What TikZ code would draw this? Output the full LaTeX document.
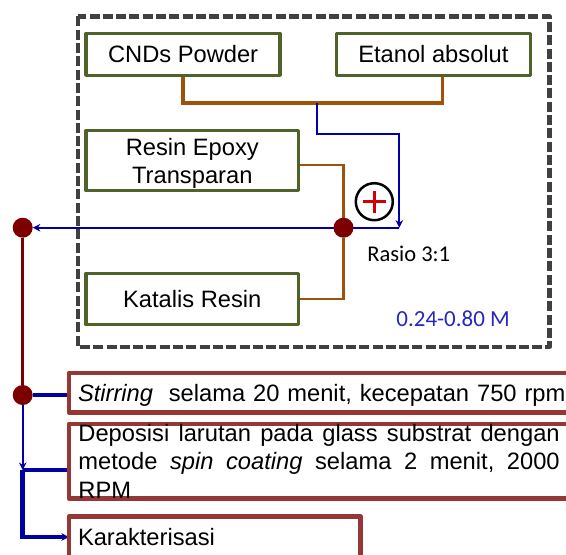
\documentclass[tikz,border=0pt]{standalone}
\usepackage{fontspec}
\setmainfont{Liberation Sans}
\newfontfamily\calfont{Carlito}
\usetikzlibrary{arrows.meta,backgrounds}
\definecolor{boxgreen}{RGB}{79,98,40}
\definecolor{boxred}{RGB}{149,55,53}
\definecolor{pipebrown}{RGB}{160,82,10}
\definecolor{pipeblue}{RGB}{0,0,165}
\definecolor{dotred}{RGB}{125,0,0}
\definecolor{dashgray}{RGB}{64,64,64}
\definecolor{molblue}{RGB}{40,40,190}
\definecolor{plusred}{RGB}{210,0,0}
\begin{document}
\begin{tikzpicture}[x=0.5pt,y=-0.5pt,font=\fontsize{11.85}{14.1}\selectfont,line join=round,
  >={Stealth[length=3.8pt,width=3.8pt]},
  gbox/.style={draw=boxgreen,line width=1.75pt,inner sep=0pt,outer sep=0pt,align=center},
  rbox/.style={draw=boxred,line width=2.25pt,inner ysep=0pt,inner xsep=4.5pt,outer sep=0pt,anchor=west,align=left},
  joint/.style={circle,fill=dotred,minimum size=10pt,inner sep=0pt,outer sep=0pt},
  thinpipe/.style={pipeblue,line width=1.1pt},
  thickpipe/.style={pipeblue,line width=2.4pt}]
\useasboundingbox (0,0) rectangle (566,554);
% bahan
\draw[dashgray,line width=2.15pt,dash pattern=on 5pt off 1.65pt] (78,16.4) rectangle (549.5,347);
\node[gbox,minimum width=97.1pt,minimum height=20.85pt] (cnd) at (183.1,54.4) {CNDs Powder};
\node[gbox,minimum width=96.85pt,minimum height=20.85pt] (eta) at (433.4,54.4) {Etanol absolut};
\node[gbox,minimum width=106.25pt,minimum height=30pt,text depth=0pt] (resin) at (192.3,160.5) {Resin Epoxy\\Transparan};
\node[gbox,minimum width=106.25pt,minimum height=25.65pt] (kat) at (192.3,298.9) {Katalis Resin};
\node[draw,circle,line width=1.25pt,minimum size=18.5pt,inner sep=0pt] (plus) at (374.3,201.7) {};
\draw[plusred,line width=1.35pt]
  ([xshift=-5.75pt]plus.center)--([xshift=5.75pt]plus.center)
  ([yshift=-5.4pt]plus.center)--([yshift=5.4pt]plus.center);
\node[anchor=base west,inner sep=0pt,font=\calfont\fontsize{11.25}{13}\selectfont] (ratio) at (367,261.7) {Rasio 3:1};
\node[anchor=base west,inner sep=0pt,text=molblue,font=\calfont\fontsize{11.5}{13}\selectfont] (molar) at (396,326) {0.24-0.80 M};
% titik cabang
\node[joint] (dotm) at (343.5,227.7) {};
\node[joint] (dotl) at (22.7,227.7) {};
\node[joint] (dots) at (22.7,395) {};
% proses
\node[rbox,minimum width=265.5pt,minimum height=19.75pt,text width=256.5pt,text depth=0pt] (stir) at (69,392.7)
  {\textit{Stirring}~ selama 20 menit, kecepatan 750 rpm};
\node[rbox,minimum width=265.5pt,minimum height=37.25pt] (depo) at (69,461.2) {};
\node[anchor=base west,inner sep=0pt,text width=240.65pt,align=left] (depotext) at (78,441.7)
  {\makebox[240.65pt][l]{Deposisi\hfill larutan\hfill pada\hfill glass\hfill substrat\hfill dengan}\\
   \makebox[240.65pt][l]{metode\hfill \textit{spin}\hfill \textit{coating}\hfill selama\hfill 2\hfill menit,\hfill 2000}\\
   RPM};
\node[rbox,minimum width=145.85pt,minimum height=20.7pt,text width=136.85pt,text depth=0pt] (kar) at (69,537) {Karakterisasi};
\coordinate (mix) at (317,103);
\coordinate (turn) at (399.3,134);
\coordinate (join) at (399.3,227.7);
\coordinate (dep) at (22.7,470);
\begin{scope}[on background layer]
\draw[pipebrown,line width=1.75pt] (cnd.south) |- (mix) -| ([xshift=4.65pt]eta.south);
\draw[thinpipe,->] (mix) |- (turn) -- (join);
\draw[pipebrown,line width=1.4pt] ([yshift=-2.25pt]resin.east) -| (dotm) |- (kat.east);
\draw[thinpipe,->] (join) -- (dotl);
\draw[dotred,line width=1.35pt] (dotl) -- (dots);
\draw[thickpipe] (dots) -- (dots -| stir.west);
\draw[thinpipe,->] (dots) -- (dep);
\draw[thickpipe] (dep) -- (dep -| depo.west);
\draw[thickpipe,->] (dep) |- (kar.west);
\end{scope}
\end{tikzpicture}
\end{document}
